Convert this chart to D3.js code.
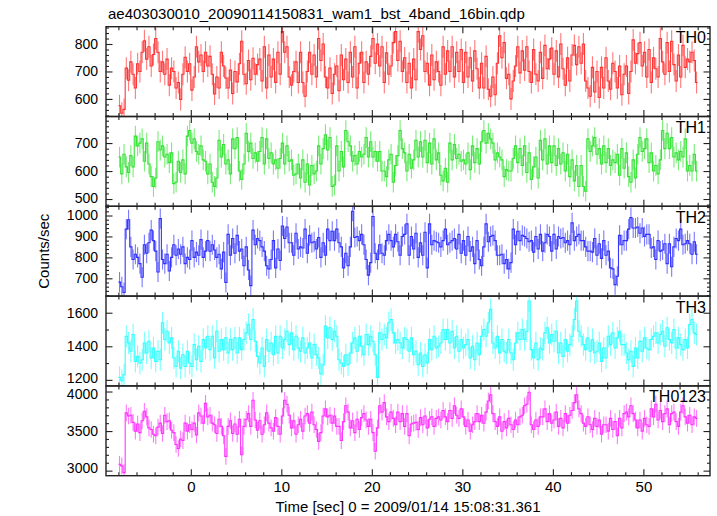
<!DOCTYPE html>
<html><head><meta charset="utf-8">
<script src="https://cdn.jsdelivr.net/npm/d3@7"></script>
<style>body{margin:0;background:#fff}svg{display:block}text{font-family:"Liberation Sans",Arial,Helvetica,sans-serif}</style>
</head><body><svg id="c" width="717" height="516"></svg>
<script>
const title = "ae403030010_20090114150831_wam1_bst_4band_16bin.qdp";
const xLabel = "Time [sec] 0 = 2009/01/14 15:08:31.361";
const yLabel = "Counts/sec";
const binStart = -8, binWidth = 0.25;
const panelNames = ["TH0", "TH1", "TH2", "TH3", "TH0123"];

const th0 = [
575,548,562,712,668,735,690,640,728,700,770,812,745,790,720,762,
820,770,700,735,690,745,650,712,700,640,660,598,690,752,700,728,
632,680,790,735,760,700,770,720,755,690,618,680,640,770,720,676,
640,705,620,700,662,728,810,690,655,740,670,748,690,725,745,665,
790,640,760,680,745,660,770,690,845,770,790,680,650,700,735,660,
770,660,610,700,770,690,760,680,820,740,800,680,640,712,620,690,
720,630,760,670,745,660,770,680,790,640,730,770,660,735,690,755,
820,730,800,720,790,660,768,690,720,805,845,740,810,700,750,660,
730,640,745,670,845,780,830,700,730,650,760,670,735,700,650,790,
690,775,700,790,680,770,700,780,660,770,680,750,665,775,710,640,
730,640,755,635,610,680,615,730,830,750,805,675,690,600,665,720,
790,695,775,705,790,700,660,780,690,665,770,675,795,710,745,785,
690,775,680,800,710,650,750,665,760,795,725,790,730,800,665,640,
610,715,625,700,605,715,640,750,665,635,730,700,640,720,615,690,
720,620,700,815,730,765,805,720,770,680,780,660,750,710,680,820,
735,690,805,700,810,725,665,760,680,795,715,745,735,770,740,660];

const th1 = [
650,590,660,615,595,655,615,725,690,700,715,635,700,625,580,545,
575,705,675,690,650,660,630,665,555,560,635,595,640,590,725,745,
700,715,670,660,690,640,635,590,625,560,545,575,710,650,695,625,
640,590,715,680,720,600,570,625,735,670,700,645,665,635,670,720,
625,715,645,665,625,640,610,645,700,625,690,635,640,585,590,625,
575,640,560,625,550,620,590,600,690,625,680,730,675,720,545,550,
690,600,670,615,745,705,690,635,655,625,670,650,660,720,650,705,
650,670,635,670,600,600,580,640,660,560,620,655,745,680,665,600,
660,610,640,710,650,705,650,710,630,700,625,715,640,665,585,565,
610,560,700,640,695,645,660,635,640,625,665,605,690,630,680,625,
705,745,700,735,715,700,640,665,650,640,580,605,600,600,645,690,
630,680,620,690,595,665,570,615,650,575,710,640,715,625,690,630,
690,620,680,625,665,600,660,580,640,565,620,545,620,545,528,715,
670,690,720,660,680,625,690,630,680,620,640,630,660,585,680,610,
665,580,560,640,575,660,720,670,680,715,630,665,600,620,590,640,
745,680,735,680,720,650,665,640,670,650,715,600,620,600,660,600];

const th2 = [
682,660,632,935,980,850,790,815,800,770,705,860,820,870,930,880,
830,730,985,790,770,815,735,800,860,810,840,815,850,770,800,790,
880,800,825,810,885,800,830,880,830,860,835,800,815,745,825,680,
910,810,890,820,905,830,840,760,850,740,665,930,860,890,880,850,
830,760,745,790,880,750,840,785,950,890,945,870,870,810,915,840,
850,845,935,820,905,870,875,840,895,800,870,810,935,880,925,880,
935,870,850,750,820,760,850,1020,895,900,880,910,860,790,715,775,
995,820,790,860,820,810,880,910,880,850,910,875,810,900,910,960,
810,900,840,915,800,870,810,920,750,960,860,880,875,870,850,880,
935,860,870,880,890,840,910,820,880,810,900,830,850,770,880,790,
760,850,960,875,900,905,880,810,810,815,770,790,745,775,935,860,
925,880,905,900,890,875,880,825,900,840,910,830,870,910,900,830,
910,840,900,890,895,870,880,860,965,880,900,910,880,880,850,830,
830,825,890,810,865,795,880,810,830,750,745,670,710,905,860,880,
880,935,990,940,940,945,915,940,900,910,910,845,850,790,880,830,
835,865,770,865,755,850,890,880,935,860,865,880,865,815,875,815];

const th3 = [
1215,1195,1230,1460,1420,1370,1470,1310,1340,1300,1320,1420,1360,1430,1330,1390,
1310,1370,1320,1540,1440,1490,1420,1450,1330,1280,1370,1270,1350,1280,1370,1300,
1280,1410,1320,1400,1310,1440,1390,1460,1380,1460,1330,1490,1370,1440,1380,1450,
1360,1440,1380,1450,1360,1450,1380,1440,1480,1530,1440,1560,1430,1340,1300,1390,
1280,1440,1370,1420,1350,1460,1360,1460,1390,1440,1490,1410,1480,1380,1460,1390,
1370,1450,1360,1390,1420,1330,1410,1350,1330,1235,1290,1520,1450,1510,1440,1490,
1460,1320,1300,1280,1350,1290,1360,1420,1450,1370,1460,1400,1350,1470,1410,1460,
1430,1350,1215,1480,1440,1470,1450,1540,1560,1480,1420,1440,1420,1390,1450,1440,
1370,1450,1350,1370,1290,1360,1280,1350,1300,1440,1380,1460,1390,1400,1420,1500,
1440,1500,1420,1490,1390,1460,1370,1440,1390,1410,1440,1330,1400,1320,1420,1350,
1460,1500,1460,1540,1620,1420,1390,1460,1360,1440,1370,1360,1440,1360,1320,1420,
1480,1440,1500,1440,1490,1670,1380,1330,1420,1320,1390,1380,1480,1510,1420,1470,
1430,1490,1360,1420,1340,1440,1370,1410,1460,1560,1670,1490,1460,1410,1380,1450,
1370,1440,1360,1370,1420,1310,1390,1330,1460,1410,1480,1390,1450,1490,1410,1410,
1360,1320,1370,1280,1390,1330,1430,1370,1450,1390,1380,1440,1460,1480,1420,1470,
1490,1400,1510,1440,1420,1500,1390,1450,1410,1380,1440,1390,1530,1560,1480,1470];

const th0123 = [
3080,3060,2975,3730,3690,3700,3610,3500,3590,3480,3630,3750,3680,3540,3520,3460,
3440,3550,3600,3470,3700,3620,3630,3510,3480,3330,3280,3400,3380,3600,3500,3580,
3520,3600,3450,3730,3690,3600,3850,3680,3700,3600,3580,3470,3650,3560,3440,3180,
3560,3630,3470,3590,3460,3650,3200,3560,3650,3720,3560,3890,3640,3510,3630,3460,
3580,3730,3600,3540,3500,3670,3560,3460,3690,3890,3840,3700,3540,3630,3460,3580,
3650,3500,3690,3720,3600,3740,3580,3520,3370,3480,3690,3780,3680,3700,3600,3690,
3560,3560,3380,3620,3820,3740,3540,3630,3480,3650,3520,3670,3720,3640,3560,3650,
3480,3245,3540,3820,3740,3860,3680,3620,3740,3660,3580,3740,3620,3720,3560,3720,
3440,3590,3600,3610,3520,3670,3580,3690,3540,3650,3680,3560,3660,3680,3640,3760,
3680,3620,3760,3660,3820,3700,3660,3780,3680,3560,3640,3500,3580,3620,3720,3620,
3700,3600,3740,3880,3960,3720,3620,3560,3680,3500,3620,3540,3660,3580,3520,3640,
3580,3680,3700,3820,3840,3990,3580,3520,3640,3560,3680,3680,3780,3620,3720,3600,
3640,3740,3560,3660,3540,3720,3600,3700,3760,3860,3960,3780,3720,3600,3560,3680,
3580,3520,3660,3560,3640,3460,3580,3580,3500,3660,3520,3620,3440,3660,3540,3720,
3740,3680,3820,3720,3640,3540,3640,3500,3660,3580,3560,3780,3680,3840,3640,3760,
3620,3720,3780,3580,3720,3740,3620,3560,3740,3820,3680,3600,3700,3580,3680,3660];

const errHalf = [40, 37, 48, 66, 105];
const yDomains = [[536, 863], [474, 795], [615, 1044], [1164, 1699], [2936, 4071]];
const yMajorTicks = [[600, 700, 800], [500, 600, 700], [700, 800, 900, 1000], [1200, 1400, 1600], [3000, 3500, 4000]];
const yMinorStep = [20, 20, 20, 100, 100];
const xDomain = [-9.37, 57.36];
const xMajorTicks = [0, 10, 20, 30, 40, 50];
const xMinorStep = 2;
const lineColors = ["#ff2020", "#20e020", "#2020ff", "#20ffff", "#ff20ff"];

const series = [th0, th1, th2, th3, th0123];

const W = 717, H = 516;
const pLeft = 106, pRight = 710, pTop = 26.7, panelH = 89.8;
const svg = d3.select("#c");
svg.append("rect").attr("width", W).attr("height", H).attr("fill", "#fff");

const x = d3.scaleLinear().domain(xDomain).range([pLeft, pRight]);
const xMinor = d3.range(-8, 57, xMinorStep).filter(v => !xMajorTicks.includes(v));

series.forEach((vals, i) => {
  const y0 = pTop + i * panelH;
  const y = d3.scaleLinear().domain(yDomains[i]).range([y0 + panelH, y0]);
  const g = svg.append("g");
  const cid = "clip" + i;
  svg.append("clipPath").attr("id", cid).append("rect")
    .attr("x", pLeft).attr("y", y0).attr("width", pRight - pLeft).attr("height", panelH);
  const dg = g.append("g").attr("clip-path", `url(#${cid})`);
  const col = lineColors[i];
  dg.selectAll("line.err").data(vals).join("line")
    .attr("class", "err")
    .attr("x1", (d, j) => x(binStart + (j + 0.5) * binWidth))
    .attr("x2", (d, j) => x(binStart + (j + 0.5) * binWidth))
    .attr("y1", d => y(d - errHalf[i]))
    .attr("y2", d => y(d + errHalf[i]))
    .attr("stroke", col).attr("stroke-opacity", 0.6).attr("stroke-width", 1.1);
  const pts = vals.flatMap((v, j) => [[binStart + j * binWidth, v], [binStart + (j + 1) * binWidth, v]]);
  dg.append("path")
    .attr("d", d3.line().x(d => x(d[0])).y(d => y(d[1]))(pts))
    .attr("fill", "none").attr("stroke", col).attr("stroke-opacity", 0.9).attr("stroke-width", 1.1);

  const yMinor = d3.range(Math.ceil(yDomains[i][0] / yMinorStep[i]) * yMinorStep[i], yDomains[i][1], yMinorStep[i])
    .filter(v => !yMajorTicks[i].includes(v));

  const style = sel => { sel.select(".domain").remove(); sel.selectAll("line").attr("stroke", "#222").attr("stroke-width", 1.1); };
  const halfH = 8;
  const textStyle = s => s.selectAll("text").attr("font-size", 14).attr("fill", "#000")
    .attr("font-family", '"Liberation Sans",Arial,sans-serif')
    .attr("y", d => {
      const ty = y(d);
      if (ty + halfH > y0 + panelH) return (y0 + panelH) - (ty + halfH);
      if (ty - halfH < y0) return y0 - (ty - halfH);
      return 0;
    });
  g.append("g").attr("transform", `translate(${pLeft},0)`)
    .call(d3.axisLeft(y).tickValues(yMajorTicks[i]).tickSize(-6.5).tickPadding(8).tickFormat(d3.format("d")))
    .call(style).call(textStyle);
  g.append("g").attr("transform", `translate(${pLeft},0)`)
    .call(d3.axisLeft(y).tickValues(yMinor).tickSize(-3).tickFormat(""))
    .call(style);
  g.append("g").attr("transform", `translate(${pRight},0)`)
    .call(d3.axisRight(y).tickValues(yMajorTicks[i]).tickSize(-6.5).tickFormat(""))
    .call(style);
  g.append("g").attr("transform", `translate(${pRight},0)`)
    .call(d3.axisRight(y).tickValues(yMinor).tickSize(-3).tickFormat(""))
    .call(style);
  g.append("g").attr("transform", `translate(0,${y0})`)
    .call(d3.axisTop(x).tickValues(xMajorTicks).tickSize(-6.5).tickFormat(""))
    .call(style);
  g.append("g").attr("transform", `translate(0,${y0})`)
    .call(d3.axisTop(x).tickValues(xMinor).tickSize(-3.5).tickFormat(""))
    .call(style);
  const bottomAxis = d3.axisBottom(x).tickValues(xMajorTicks).tickSize(-6.5).tickPadding(6);
  if (i < series.length - 1) bottomAxis.tickFormat("");
  g.append("g").attr("transform", `translate(0,${y0 + panelH})`)
    .call(bottomAxis).call(style).call(s => s.selectAll("text").attr("font-size", 15).attr("fill", "#000"));
  g.append("g").attr("transform", `translate(0,${y0 + panelH})`)
    .call(d3.axisBottom(x).tickValues(xMinor).tickSize(-3.5).tickFormat(""))
    .call(style);
  g.append("rect").attr("x", pLeft).attr("y", y0).attr("width", pRight - pLeft).attr("height", panelH)
    .attr("fill", "none").attr("stroke", "#222").attr("stroke-width", 1.4);
  g.append("text").attr("x", pRight - 4).attr("y", y0 + 16.5).attr("text-anchor", "end")
    .attr("font-size", 16).attr("fill", "#000").text(panelNames[i]);
});

svg.append("text").attr("x", 108).attr("y", 19).attr("font-size", 15).attr("fill", "#000").text(title);
svg.append("text").attr("x", (pLeft + pRight) / 2).attr("y", 511.5).attr("text-anchor", "middle")
  .attr("font-size", 15).attr("fill", "#000").text(xLabel);
svg.append("text").attr("transform", `translate(49,${pTop + panelH * 2.5}) rotate(-90)`).attr("text-anchor", "middle")
  .attr("font-size", 15).attr("fill", "#000").text(yLabel);
</script>
</body></html>
